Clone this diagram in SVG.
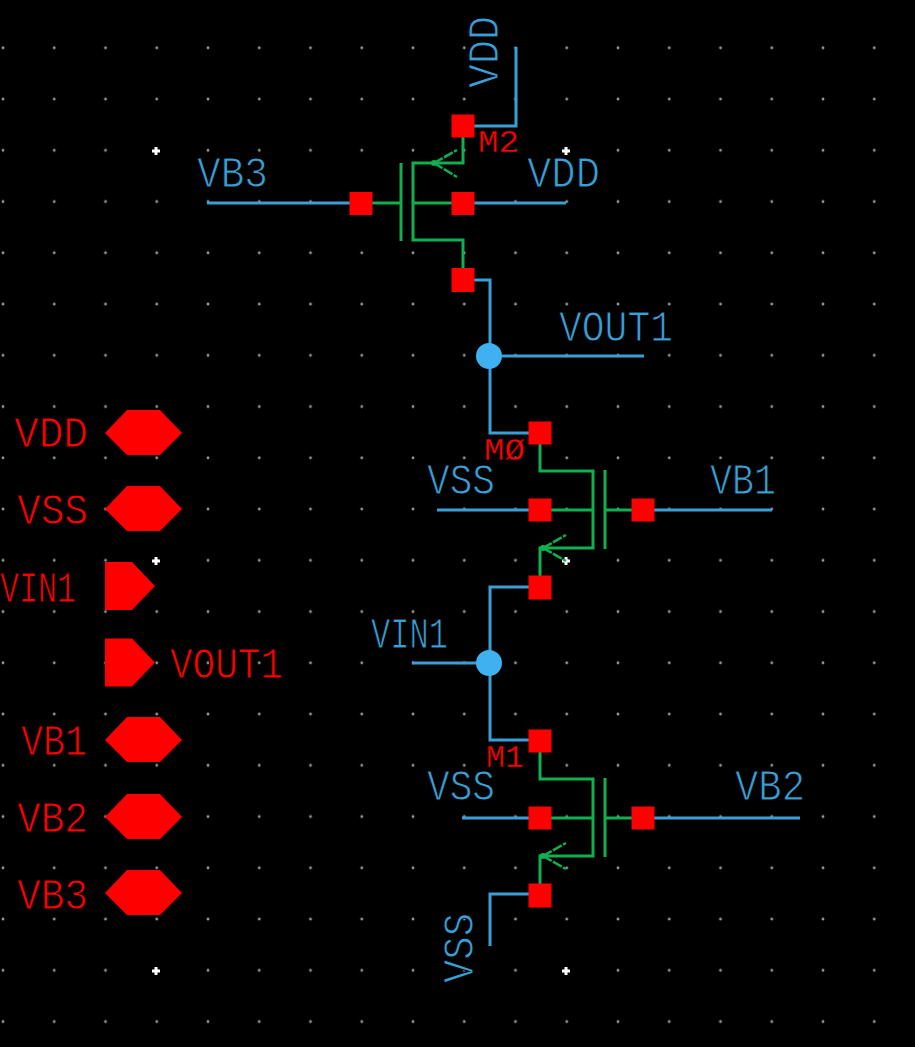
<svg xmlns="http://www.w3.org/2000/svg" width="915" height="1047" viewBox="0 0 915 1047">
<style>
text{font-family:"Liberation Mono",monospace;font-size:44px;stroke:#000;stroke-width:1}
.n{fill:#3a9fd6}
.r{fill:#f00}
.i{font-size:31px;stroke-width:.35}
.w{fill:none;stroke:#3a9fd6;stroke-width:3}
.g{fill:none;stroke:#0fb050;stroke-width:3}
.d{fill:none;stroke:#0fb050;stroke-width:2.500;stroke-dasharray:10 1.500}
.p{fill:#f00}
.j{fill:#3fb0f0}
.x{fill:#fff}
</style>
<defs>
<pattern id="grid" patternUnits="userSpaceOnUse" x="3" y="-3.4" width="51.25" height="51.25">
<circle cx="0" cy="0" r="1.4" fill="#9a9aa8"/><circle cx="51.25" cy="0" r="1.4" fill="#9a9aa8"/><circle cx="0" cy="51.25" r="1.4" fill="#9a9aa8"/><circle cx="51.25" cy="51.25" r="1.4" fill="#9a9aa8"/>
</pattern>
<path id="cross" d="M-1.500-4h3v2.500h2.500v3h-2.500v2.500h-3v-2.500h-2.500v-3h2.500z"/>
<path id="hex" d="M-38 0L-16-23H17L39 0 17 22H-16Z"/>
<path id="pent" d="M-24-24H3L26 0 3 24H-24Z"/>
<g id="nmos">
<path class="g" d="M0 0V38H53V115H0V154M0 77H53M65 37V116M65 77H103"/>
<path class="d" d="M3 115L26 102M3 115L26 128"/>
<circle cx="3" cy="115" r="3" fill="#0fb050"/>
<rect class="p" x="-11.500" y="-11.500" width="23" height="23"/>
<rect class="p" x="-11.500" y="65.500" width="23" height="23"/>
<rect class="p" x="-11.500" y="142.500" width="23" height="24"/>
<rect class="p" x="91.500" y="65.500" width="23" height="23"/>
</g>
</defs>
<rect width="915" height="1047" fill="#000"/>
<rect width="915" height="1047" fill="url(#grid)"/>
<g id="origin-marks" class="x">
<use href="#cross" x="156" y="151"/><use href="#cross" x="566" y="151"/>
<use href="#cross" x="156" y="561"/><use href="#cross" x="566" y="561"/>
<use href="#cross" x="156" y="971"/><use href="#cross" x="566" y="971"/>
</g>
<g id="connectors">
<path class="w" d="M463 126H516V47"/>
<path class="w" d="M207 203H361M463 203H566"/>
<path class="w" d="M463 280H490V433H540M490 356H644"/>
<path class="w" d="M437 510H540M643 510H772"/>
<path class="w" d="M540 587H490V740H540M412 663H490"/>
<path class="w" d="M462 818H540M643 818H800"/>
<path class="w" d="M540 894H490V946"/>
</g>
<g id="M2">
<path class="g" d="M463 126V163H413V240H463V280M413 203H463M401 163V241M361 203H401"/>
<path class="d" d="M434 163L457 150M434 163L457 177"/>
<circle cx="434" cy="163" r="3" fill="#0fb050"/>
<rect class="p" x="451.500" y="114.500" width="23" height="23"/>
<rect class="p" x="349.500" y="192" width="23" height="23"/>
<rect class="p" x="451.500" y="192" width="23" height="23"/>
<rect class="p" x="451.500" y="268" width="23" height="24"/>
<text class="r i" x="478" y="152" textLength="41" lengthAdjust="spacingAndGlyphs">M2</text>
</g>
<g id="M0"><use href="#nmos" x="540" y="433"/>
<text class="r i" x="484" y="460" textLength="41" lengthAdjust="spacingAndGlyphs">MØ</text></g>
<g id="M1"><use href="#nmos" x="540" y="741"/>
<text class="r i" x="486" y="767" textLength="38" lengthAdjust="spacingAndGlyphs">M1</text></g>
<g id="junction-out"><circle class="j" cx="489" cy="356" r="13"/></g>
<g id="junction-in"><circle class="j" cx="489" cy="663" r="13"/></g>
<g id="net-labels" class="n">
<text x="197" y="187" textLength="71" lengthAdjust="spacingAndGlyphs">VB3</text>
<text x="527" y="187" textLength="73" lengthAdjust="spacingAndGlyphs">VDD</text>
<text x="559" y="341" textLength="114" lengthAdjust="spacingAndGlyphs">VOUT1</text>
<text x="427" y="494" textLength="68" lengthAdjust="spacingAndGlyphs">VSS</text>
<text x="710" y="494" textLength="66" lengthAdjust="spacingAndGlyphs">VB1</text>
<text x="371" y="648" textLength="77" lengthAdjust="spacingAndGlyphs">VIN1</text>
<text x="427" y="800" textLength="68" lengthAdjust="spacingAndGlyphs">VSS</text>
<text x="735" y="800" textLength="70" lengthAdjust="spacingAndGlyphs">VB2</text>
<text transform="translate(498 88) rotate(-90)" textLength="72" lengthAdjust="spacingAndGlyphs">VDD</text>
<text transform="translate(473 983) rotate(-90)" textLength="70" lengthAdjust="spacingAndGlyphs">VSS</text>
</g>
<g id="pin-VDD"><use class="p" href="#hex" x="143" y="433"/><text class="r" x="14" y="447" textLength="74" lengthAdjust="spacingAndGlyphs">VDD</text></g>
<g id="pin-VSS"><use class="p" href="#hex" x="143" y="509"/><text class="r" x="17" y="524" textLength="71" lengthAdjust="spacingAndGlyphs">VSS</text></g>
<g id="pin-VIN1"><use class="p" href="#pent" x="129" y="586"/><text class="r" x="0" y="602" textLength="76" lengthAdjust="spacingAndGlyphs">VIN1</text></g>
<g id="pin-VOUT1"><use class="p" href="#pent" x="129" y="662.500" /><text class="r" x="170" y="678" textLength="113" lengthAdjust="spacingAndGlyphs">VOUT1</text></g>
<g id="pin-VB1"><use class="p" href="#hex" x="143" y="740"/><text class="r" x="21" y="755" textLength="66" lengthAdjust="spacingAndGlyphs">VB1</text></g>
<g id="pin-VB2"><use class="p" href="#hex" x="143" y="817"/><text class="r" x="17" y="832" textLength="71" lengthAdjust="spacingAndGlyphs">VB2</text></g>
<g id="pin-VB3"><use class="p" href="#hex" x="143" y="893"/><text class="r" x="17" y="909" textLength="71" lengthAdjust="spacingAndGlyphs">VB3</text></g>
</svg>
